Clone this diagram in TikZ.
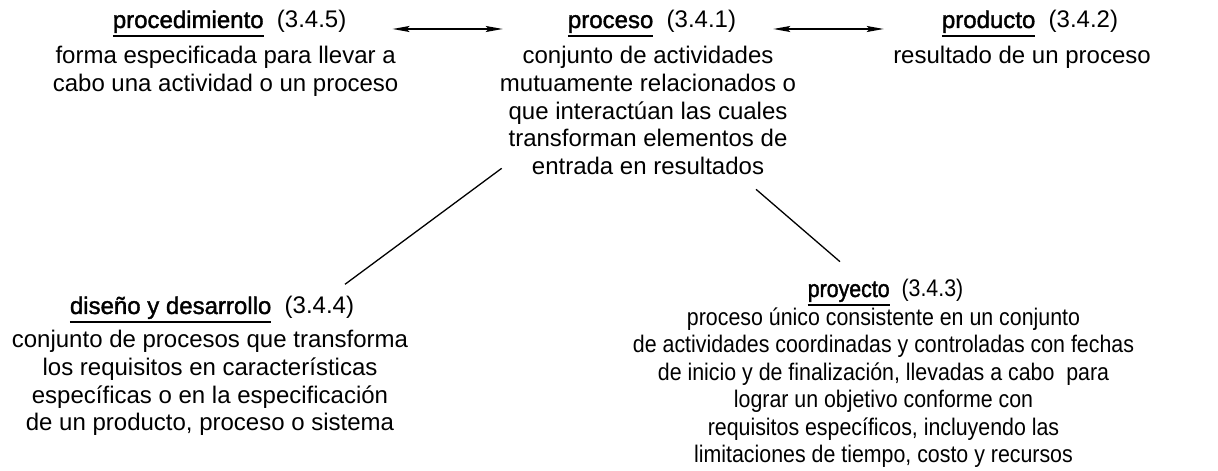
\documentclass[tikz,border=0pt]{standalone}
\usepackage{fontspec}
\setmainfont{Liberation Sans}
\newfontfamily\ttlfont{Liberation Sans}[FakeBold=1.5]
\newfontfamily\narrowfont{Liberation Sans}[FakeStretch=0.89]
\newfontfamily\narrowttlfont{Liberation Sans}[FakeStretch=0.89,FakeBold=1.5]
\usetikzlibrary{arrows.meta,positioning,calc}
\newcommand{\ttlul}[2][\ttlfont]{\setbox0\hbox{#1#2}\rlap{\copy0}\rule[-9pt]{\wd0}{1.5pt}}

\begin{document}
\begin{tikzpicture}[x=1pt,y=1pt,
    ttl/.style={anchor=base,inner sep=0pt,font=\fontsize{24}{27.6}\selectfont},
    txt/.style={anchor=base,inner sep=0pt,align=center,font=\fontsize{24}{27.6}\selectfont},
    dblarrow/.style={{Stealth[length=17pt,width=6pt,inset=3pt]}-{Stealth[length=17pt,width=6pt,inset=3pt]},line width=1.6pt},
    link/.style={-,line width=1.3pt}]

            \useasboundingbox (0,0) rectangle (1218,471);

            % base of a text node is its last line, so the gaps count the lines above it
            \node[ttl] (pcdT) at (229.6,443) {\ttlul{procedimiento}~~(3.4.5)};
            \node[txt,below=63.6pt of pcdT.base,anchor=base,xshift=-4pt] (pcd) {forma especificada para llevar a\\cabo una actividad o un proceso};

            \node[ttl] (prcT) at (652,443) {\ttlul{proceso}~~(3.4.1)};
            \node[txt,below=146.4pt of prcT.base,anchor=base,xshift=-4pt] (prc) {conjunto de actividades\\mutuamente relacionados o\\que interactúan las cuales\\transforman elementos de\\entrada en resultados};

            \node[ttl] (prdT) at (1030,443) {\ttlul{producto}~~(3.4.2)};
            \node[txt,below=36pt of prdT.base,anchor=base,xshift=-8pt] (prd) {resultado de un proceso};

            \node[ttl] (disT) at (212,157) {\ttlul{diseño y desarrollo}~~(3.4.4)};
            \node[txt,below=116.8pt of disT.base,anchor=base,xshift=-2pt] (dis) {conjunto de procesos que transforma\\los requisitos en características\\específicas o en la especificación\\de un producto, proceso o sistema};

            % proyecto is set a little narrower
            \node[ttl,font=\fontsize{24}{27.6}\narrowfont] (proT) at (885.5,174) {\ttlul[\narrowttlfont]{proyecto}~~(3.4.3)};
            \node[txt,font=\fontsize{24}{27.6}\narrowfont,below=166pt of proT.base,anchor=base,xshift=-2pt] (pro) {proceso único consistente en un conjunto\\de actividades coordinadas y controladas con fechas\\de inicio y de finalización, llevadas a cabo\ \ para\\lograr un objetivo conforme con\\requisitos específicos, incluyendo las\\limitaciones de tiempo, costo y recursos};

            \draw[dblarrow,shorten <=46pt,shorten >=65pt] ([yshift=-1pt]pcdT.base east) to ([yshift=-1pt]prcT.base west);
            \draw[dblarrow,shorten <=37pt,shorten >=58pt] ([yshift=-1pt]prcT.base east) to ([yshift=-1pt]prdT.base west);

            \draw[link] ($(prcT.base)+(-150.3,-140.3)$) to ($(disT.base)+(133,29.7)$);
            \draw[link] ($(prcT.base)+(104,-161.3)$) to ($(proT.base)+(-45.5,35.3)$);

\end{tikzpicture}
\end{document}
